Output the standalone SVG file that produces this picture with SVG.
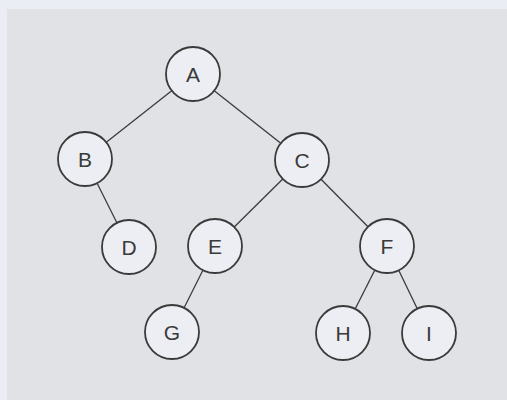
<svg xmlns="http://www.w3.org/2000/svg" width="507" height="400" viewBox="0 0 507 400">
<style>
.n circle{fill:#eceef3;stroke:#3a3a3a;stroke-width:1.8}
.n text{font-family:"Liberation Sans",Arial,sans-serif;font-size:21px;fill:#3a3a3a;text-anchor:middle;dominant-baseline:central}
#edges line{stroke:#3a3a3a;stroke-width:1.3}
</style>
<rect x="0" y="0" width="507" height="400" fill="#eaedf3"/>
<rect x="7" y="9" width="500" height="391" fill="#e0e2e6"/>
<g id="edges">
<line x1="193" y1="74" x2="85" y2="159"/>
<line x1="193" y1="74" x2="302" y2="160"/>
<line x1="85" y1="159" x2="129" y2="247"/>
<line x1="302" y1="160" x2="215" y2="246"/>
<line x1="302" y1="160" x2="387" y2="246"/>
<line x1="215" y1="246" x2="172" y2="332"/>
<line x1="387" y1="246" x2="343" y2="333"/>
<line x1="387" y1="246" x2="429" y2="333"/>
</g>
<g id="A" class="n"><circle cx="193" cy="74" r="27"/><text x="193" y="74">A</text></g>
<g id="B" class="n"><circle cx="85" cy="159" r="27"/><text x="85" y="159">B</text></g>
<g id="C" class="n"><circle cx="302" cy="160" r="27"/><text x="302" y="160">C</text></g>
<g id="D" class="n"><circle cx="129" cy="247" r="27"/><text x="129" y="247">D</text></g>
<g id="E" class="n"><circle cx="215" cy="246" r="27"/><text x="215" y="246">E</text></g>
<g id="F" class="n"><circle cx="387" cy="246" r="27"/><text x="387" y="246">F</text></g>
<g id="G" class="n"><circle cx="172" cy="332" r="27"/><text x="172" y="332">G</text></g>
<g id="H" class="n"><circle cx="343" cy="333" r="27"/><text x="343" y="333">H</text></g>
<g id="I" class="n"><circle cx="429" cy="333" r="27"/><text x="429" y="333">I</text></g>
</svg>
